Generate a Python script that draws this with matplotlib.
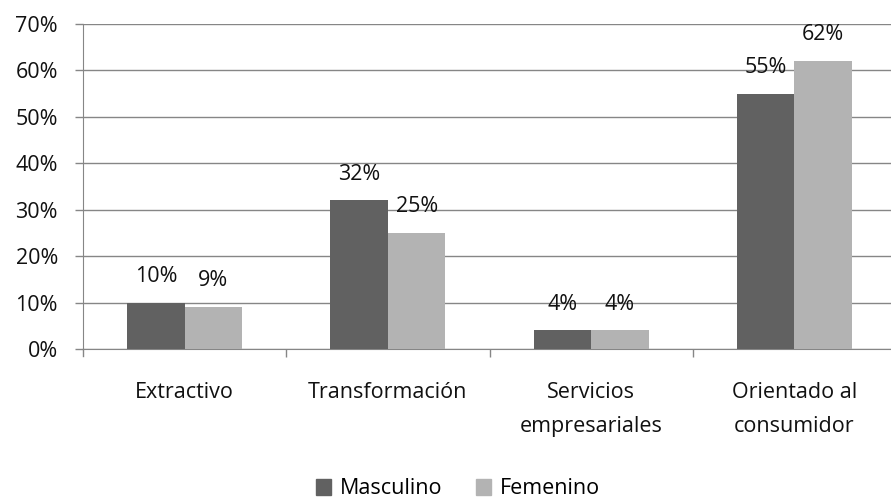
import numpy as np
import matplotlib.pyplot as plt
from matplotlib.patches import Patch

categorias = ["Extractivo", "Transformación", "Servicios\nempresariales", "Orientado al\nconsumidor"]
masculino = [10, 32, 4, 55]
femenino = [9, 25, 4, 62]
series = ["Masculino", "Femenino"]
colores = ["#616161", "#b3b3b3"]

plt.rcParams['font.family'] = ['Open Sans', 'DejaVu Sans']
fs = 15.5

fig = plt.figure(figsize=(8.91, 5.03), dpi=100)
ax = fig.add_axes([83 / 891, 1 - 349 / 503, 1 - 83 / 891, (349 - 24) / 503])

x = np.arange(len(categorias))
w = 0.283
b1 = ax.bar(x - w / 2, masculino, w, color=colores[0], zorder=3)
b2 = ax.bar(x + w / 2, femenino, w, color=colores[1], zorder=3)

for bars, vals in ((b1, masculino), (b2, femenino)):
    for r, v in zip(bars, vals):
        ax.annotate(f"{v}%", (r.get_x() + r.get_width() / 2, v),
                    xytext=(0, 19), textcoords="offset points",
                    ha="center", va="center", fontsize=fs, color="#111111")

ax.set_ylim(0, 70)
ax.set_yticks(range(0, 71, 10))
ax.set_yticklabels([f"{t}%" for t in range(0, 71, 10)], fontsize=fs, color="#111111")
ax.set_xlim(-0.5, 3.475)
ax.set_xticks(x)
ax.set_xticklabels(categorias, fontsize=fs, color="#111111", va="top", linespacing=1.8)
ax.set_xticks(np.arange(0.5, 3.5, 1), minor=True)
ax.tick_params(axis="x", which="major", length=0, pad=24)
ax.tick_params(axis="x", which="minor", length=6, color="#868686", width=1)
ax.tick_params(axis="y", length=6, color="#868686", width=1, pad=12)

ax.yaxis.grid(True, color="#868686", linewidth=1)
ax.set_axisbelow(True)
for s in ("top", "right"):
    ax.spines[s].set_visible(False)
ax.spines["left"].set_color("#868686")
ax.spines["bottom"].set_color("#868686")

# marca inferior en el origen
ax.plot([-0.5, -0.5], [0, -1.6], color="#868686", lw=1, clip_on=False)

handles = [Patch(color=c, label=s) for c, s in zip(colores, series)]
fig.legend(handles=handles, loc="center", bbox_to_anchor=(458 / 891, 1 - 489 / 503),
           ncol=2, frameon=False, fontsize=fs, handlelength=0.7, handleheight=0.7,
           handletextpad=0.4, columnspacing=1.6)

fig.savefig("out.png", dpi=100)
